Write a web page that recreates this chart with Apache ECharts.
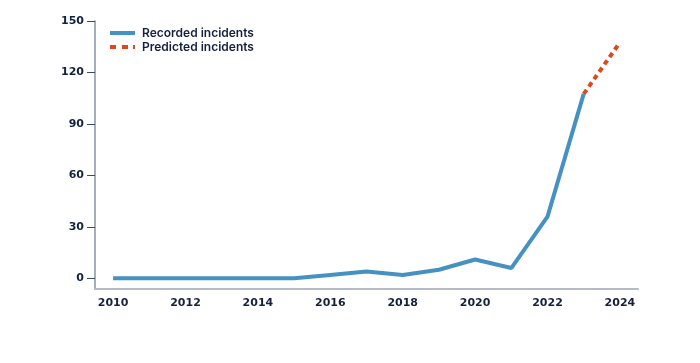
<!DOCTYPE html>
<html><head><meta charset="utf-8">
<script src="https://cdn.jsdelivr.net/npm/echarts@6/dist/echarts.min.js"></script>
<style>html,body{margin:0;padding:0;background:#fff}#c{width:700px;height:363px}</style>
</head><body><div id="c"></div>
<script>
const years = ['2010','2011','2012','2013','2014','2015','2016','2017','2018','2019','2020','2021','2022','2023','2024'];
const recorded = [0,0,0,0,0,0,2,4,2,5,11,6,36,107.5,null];
const predicted = [null,null,null,null,null,null,null,null,null,null,null,null,null,107.5,137.5];
const yTicks = [0,30,60,90,120,150];
const navy = '#14213d';
const chart = echarts.init(document.getElementById('c'));
chart.setOption({
  animation:false,
  grid:{left:95,top:21,right:62,bottom:74},
  legend:{
    left:110, top:26, orient:'vertical', itemGap:0, itemWidth:25, itemHeight:4, padding:0,
    textStyle:{color:navy, fontFamily:'Inter', fontSize:12, fontWeight:600, lineHeight:14, padding:[0,0,0,2]},
    data:[
      {name:'Recorded incidents', icon:'rect', itemStyle:{color:'#4592c2'}},
      {name:'Predicted incidents', icon:'path://M0,0h6v4h-6z M12,0h6v4h-6z M23,0h2v4h-2z', itemStyle:{color:'#e0481c'}}
    ]
  },
  xAxis:{
    type:'category', data:years, boundaryGap:true,
    axisLine:{onZero:false, lineStyle:{color:'#b5bac6', width:2}},
    axisTick:{alignWithLabel:true, interval:1, length:6, lineStyle:{color:'#3d4a66'}},
    axisLabel:{interval:1, color:navy, fontFamily:'DejaVu Sans', fontWeight:'bold', fontSize:11, margin:9}
  },
  yAxis:{
    type:'value', min:-6.2, max:150,
    splitLine:{show:false},
    axisLine:{show:true, lineStyle:{color:'#8a93a5', width:1.5}},
    axisTick:{show:true, customValues:yTicks, length:8, lineStyle:{color:'#3d4a66'}},
    axisLabel:{customValues:yTicks, color:navy, fontFamily:'DejaVu Sans', fontWeight:'bold', fontSize:11, margin:11}
  },
  series:[
    {name:'Predicted incidents', type:'line', data:predicted, symbol:'none', z:2,
     lineStyle:{color:'#e0481c', width:4, type:[5,4]}, itemStyle:{color:'#e0481c'}},
    {name:'Recorded incidents', type:'line', data:recorded, symbol:'none', z:3,
     lineStyle:{color:'#4592c2', width:4}, itemStyle:{color:'#4592c2'}}
  ]
});
</script></body></html>
